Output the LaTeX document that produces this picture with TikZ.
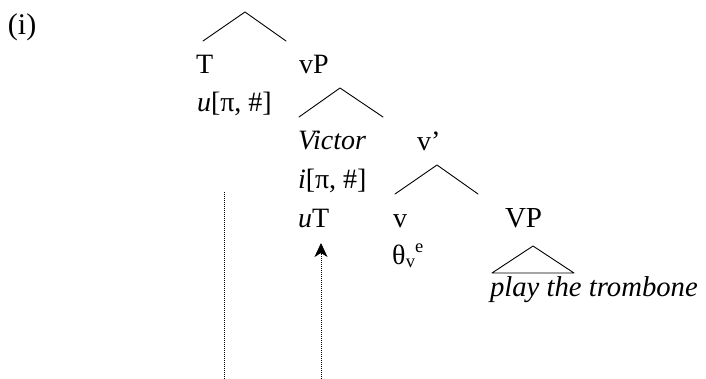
\documentclass[tikz,border=0pt]{standalone}
\usepackage{fontspec}
\setmainfont{Liberation Serif}
\usetikzlibrary{arrows.meta}
\begin{document}
\begin{tikzpicture}[x=1pt,y=-1pt,
  lbl/.style={anchor=base west,inner sep=0pt,outer sep=0pt,font=\fontsize{28}{32}\selectfont},
  branch/.style={line width=0.9pt,line cap=round,line join=round},
  trace/.style={line width=0.8pt,dash pattern=on 0.8pt off 1.2pt}]
\useasboundingbox (0,0) rectangle (706,379);
% labels
\node[lbl,font=\fontsize{30}{32}\selectfont] (ex) at (8,35) {(i)};
\node[lbl] (T) at (196,74) {T};
\node[lbl] (vP) at (299,74) {vP};
\node[lbl] (uphi) at (197,112) {\textit{u}[π, \#]};
\node[lbl] (victor) at (298,150) {\textit{Victor}};
\node[lbl] (vbar) at (417,151) {v’};
\node[lbl] (iphi) at (298,189) {\textit{i}[π, \#]};
\node[lbl] (uT) at (298,228) {\textit{u}T};
\node[lbl] (v) at (393,228) {v};
\node[lbl,font=\fontsize{29}{32}\selectfont] (VP) at (505,228) {VP};
\node[lbl] (theta) at (392,265) {θ\hspace{0.5pt}\raisebox{-0.2ex}{\fontsize{18.5}{18}\selectfont v}\raisebox{1.0ex}{\fontsize{18.5}{18}\selectfont e}};
\node[lbl,font=\fontsize{28.7}{32}\selectfont] (play) at (490,296) {\textit{play the trombone}};
% branches
\coordinate (a1) at (245,12); \coordinate (l1) at (203,41); \coordinate (r1) at (286,41);
\coordinate (a2) at (340,88); \coordinate (l2) at (299,117); \coordinate (r2) at (383,117);
\coordinate (a3) at (437,165); \coordinate (l3) at (395,194); \coordinate (r3) at (478,194);
\coordinate (a4) at (533,246); \coordinate (l4) at (492,273); \coordinate (r4) at (574,273);
\draw[branch] (l1) -- (a1) -- (r1);
\draw[branch] (l2) -- (a2) -- (r2);
\draw[branch] (l3) -- (a3) -- (r3);
\draw[branch] (l4) -- (a4) -- (r4) -- cycle;
% traces
\coordinate (t1top) at (224,192); \coordinate (t1bot) at (224,379);
\coordinate (t2top) at (321,243); \coordinate (t2bot) at (321,379);
\draw[trace] (t1top) -- (t1bot);
\draw[trace,-{Stealth[length=14pt,width=13pt,inset=4pt]}] (t2bot) -- (t2top);
\end{tikzpicture}
\end{document}
